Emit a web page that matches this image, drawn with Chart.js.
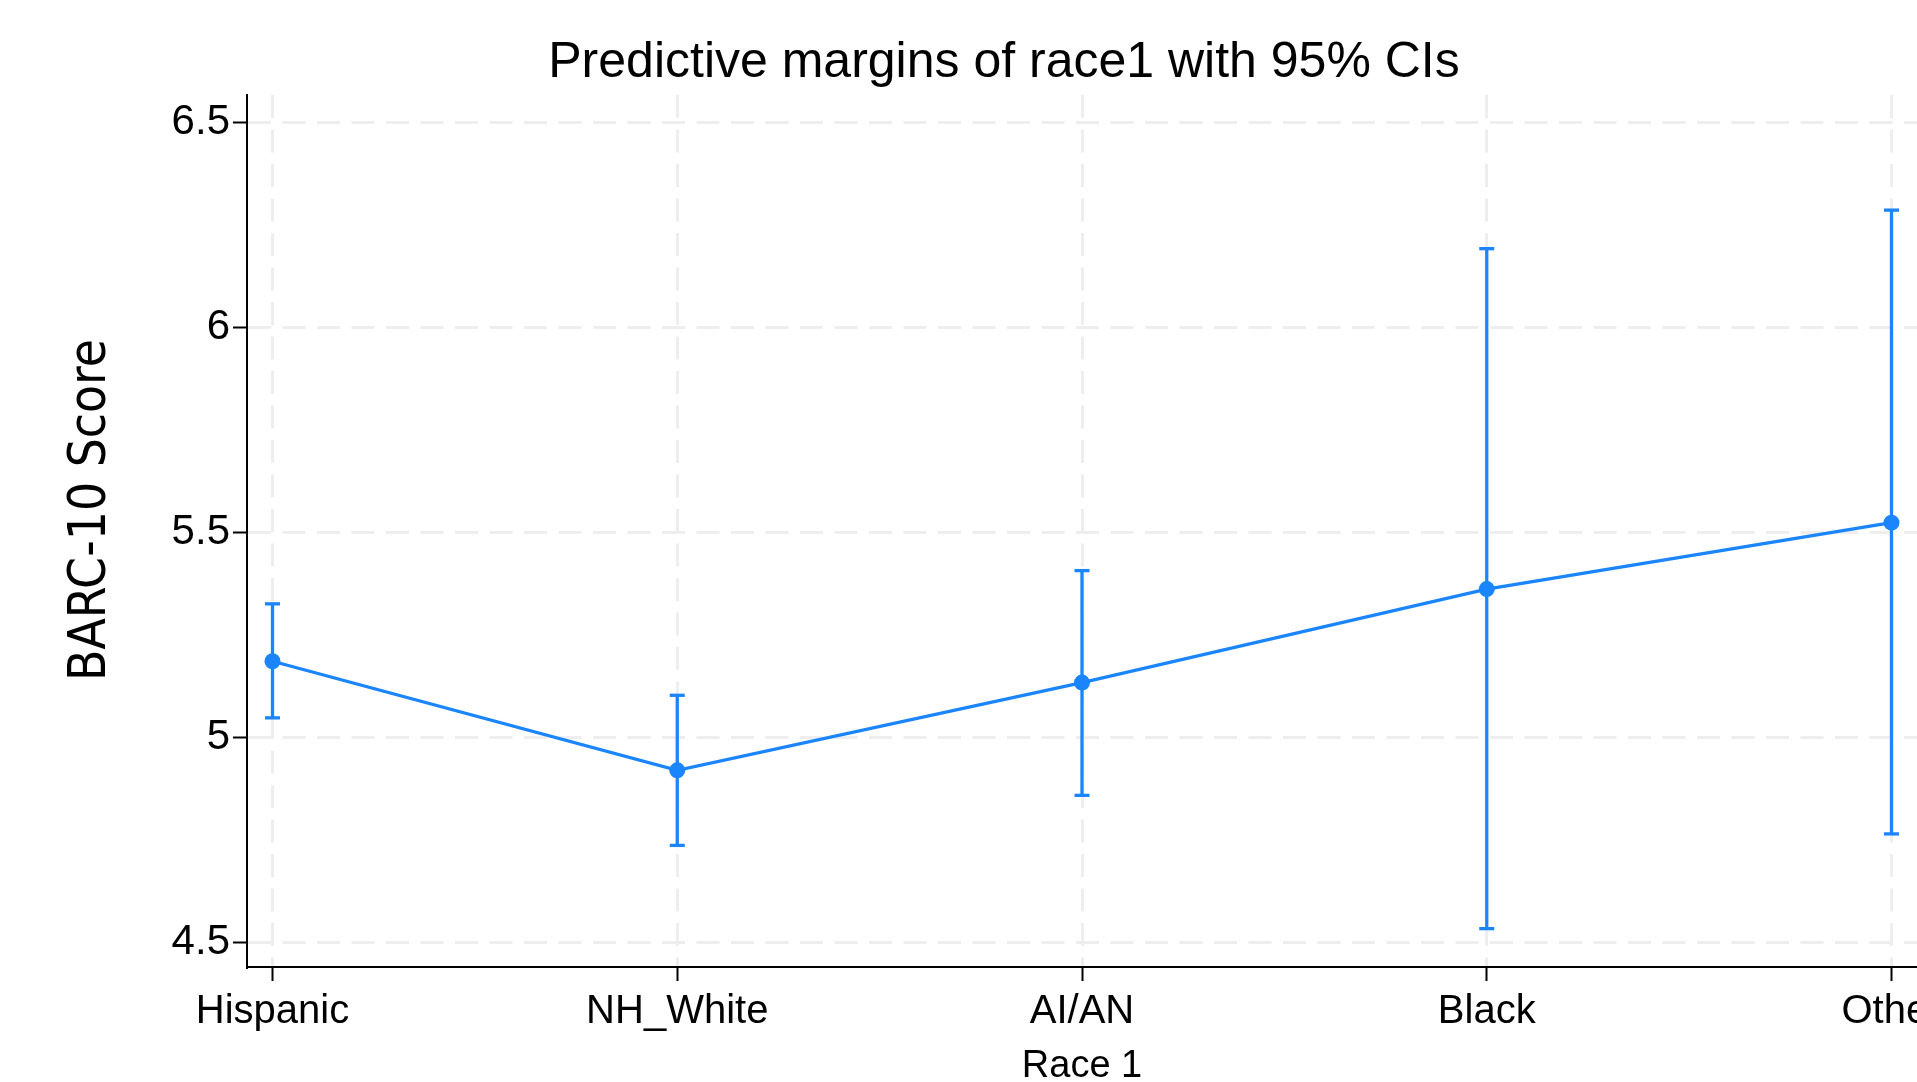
<!DOCTYPE html>
<html>
<head>
<meta charset="utf-8">
<script src="https://cdn.jsdelivr.net/npm/chart.js@4"></script>
<style>
  html, body { margin: 0; padding: 0; background: #fff; overflow: hidden; }
  #wrap { width: 1977px; height: 1082px; position: relative; }
</style>
</head>
<body>
<div id="wrap"><canvas id="chart"></canvas></div>
<script>
const categories = ["Hispanic", "NH_White", "AI/AN", "Black", "Other"];
const margins = [5.186, 4.920, 5.134, 5.362, 5.524];
const ciLow = [5.048, 4.737, 4.859, 4.534, 4.765];
const ciHigh = [5.326, 5.103, 5.407, 6.192, 6.286];
const yTicks = [4.5, 5, 5.5, 6, 6.5];

const blue = "#1a85ff";
const gridColor = "#eeeeee";
const sans = "'Liberation Sans', Arial, Helvetica, sans-serif";
const narrow = "'Liberation Sans Narrow', 'DejaVu Sans Condensed', " + sans;

const ciSets = categories.map((c, i) => ({
  data: [{ x: i, y: ciLow[i] }, { x: i, y: ciHigh[i] }],
  showLine: true,
  borderColor: blue,
  borderWidth: 3.3,
  pointStyle: "line",
  pointRadius: 7.5,
  pointBorderWidth: 3.3,
  pointBorderColor: blue,
  pointBackgroundColor: blue
}));

const mainSet = {
  data: margins.map((y, i) => ({ x: i, y })),
  showLine: true,
  borderColor: blue,
  borderWidth: 3.3,
  pointStyle: "circle",
  pointRadius: 8,
  pointBorderWidth: 0,
  pointBackgroundColor: blue
};

// y axis title, drawn by hand so it can sit a bit above the plot centre like the original
const yTitle = {
  id: "yTitle",
  afterDraw(chart) {
    const c = chart.ctx;
    c.save();
    c.translate(92, 510);
    c.rotate(-Math.PI / 2);
    c.font = "51px " + narrow;
    c.fillStyle = "#000";
    c.textAlign = "center";
    c.textBaseline = "middle";
    c.fillText("BARC-10 Score", 0, 0);
    c.restore();
  }
};

const ctx = document.getElementById("chart").getContext("2d");
new Chart(ctx, {
  type: "scatter",
  data: { datasets: [mainSet, ...ciSets] },
  plugins: [yTitle],
  options: {
    responsive: true,
    maintainAspectRatio: false,
    animation: false,
    layout: { padding: { left: 91, right: 60, top: 0, bottom: 0 } },
    plugins: {
      legend: { display: false },
      tooltip: { enabled: false },
      title: {
        display: true,
        text: "Predictive margins of race1 with 95% CIs",
        color: "#000",
        font: { family: sans, size: 50, weight: "normal", lineHeight: 1.2 },
        padding: { top: 33, bottom: 2 }
      }
    },
    scales: {
      x: {
        type: "linear",
        min: -0.063,
        max: 4.063,
        afterBuildTicks: s => { s.ticks = categories.map((c, i) => ({ value: i })); },
        afterFit: s => { s.height = 115; },
        ticks: {
          autoSkip: false,
          maxRotation: 0,
          color: "#000",
          padding: 7,
          font: { family: sans, size: 40 },
          callback: v => categories[v]
        },
        grid: {
          color: gridColor, lineWidth: 3,
          tickColor: "#000", tickWidth: 2, tickLength: 14, tickBorderDash: []
        },
        border: { display: true, color: "#000", width: 2, dash: [23, 11.5] },
        title: {
          display: true,
          text: "Race 1",
          color: "#000",
          font: { family: sans, size: 38, lineHeight: 0.8 },
          padding: { top: 0, bottom: 0 }
        }
      },
      y: {
        type: "linear",
        min: 4.4405,
        max: 6.5667,
        afterBuildTicks: s => { s.ticks = yTicks.map(v => ({ value: v })); },
        afterFit: s => { s.width = 156; },
        ticks: {
          color: "#000",
          padding: 3,
          font: { family: sans, size: 42 },
          callback: v => String(v)
        },
        grid: {
          color: gridColor, lineWidth: 3,
          tickColor: "#000", tickWidth: 2, tickLength: 14, tickBorderDash: []
        },
        border: { display: true, color: "#000", width: 2, dash: [23, 11.5] }
      }
    }
  }
});
</script>
</body>
</html>
